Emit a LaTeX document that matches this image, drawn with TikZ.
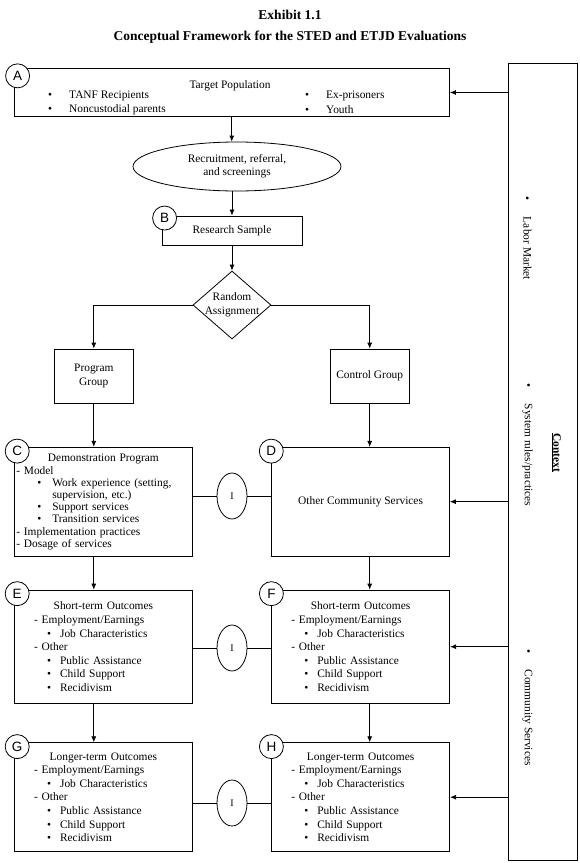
\documentclass[tikz,border=0pt]{standalone}
\usepackage{fontspec}
\setmainfont{Liberation Serif}
\setsansfont{Liberation Sans}
\usetikzlibrary{arrows.meta,positioning,shapes.geometric,calc}

\newcommand{\itm}[1]{\hspace*{13pt}\textbullet\hspace{9pt}#1}
\newcommand{\ditm}[1]{\hspace*{21pt}\textbullet\hspace{11pt}#1}
\newcommand{\hd}[1]{\makebox[\linewidth][c]{#1}}

\begin{document}
\begin{tikzpicture}[
  x=1pt, y=-1pt,
  font=\fontsize{11.4}{13.6}\selectfont,
  box/.style={rectangle, draw, align=center, inner sep=0pt, line width=0.8pt},
  listbox/.style={rectangle, draw, align=left, text width=138.6pt, inner xsep=19.8pt, inner ysep=0pt, minimum width=178.2pt, line width=0.8pt},
  tagcircle/.style={circle, draw, fill=white, minimum size=24pt, inner sep=0pt, line width=0.8pt, font=\sffamily\fontsize{13.5}{13.5}\selectfont},
  ibubble/.style={ellipse, draw, minimum width=30pt, minimum height=46pt, inner sep=0pt, line width=0.8pt, font=\fontsize{10}{10}\selectfont},
  ctxlabel/.style={rotate=-90, anchor=west, inner sep=0pt},
  arrow/.style={-{Latex[length=6pt,width=5pt]}, line width=0.8pt},
  conn/.style={line width=0.8pt}
]
\useasboundingbox (0,0) rectangle (579,863);

\node[font=\bfseries\fontsize{13.5}{16}\selectfont] (exhibit) at (290,14.5) {Exhibit 1.1};
\node[font=\bfseries\fontsize{13.5}{16}\selectfont] (title) at (290,37.5) {Conceptual Framework for the STED and ETJD Evaluations};

% target population
\node[box, minimum width=435.5pt, minimum height=48.5pt] (target) at (231.75,92.5) {};
\node (tpop) at (230,85.5) {Target Population};
\node[anchor=west, inner sep=0pt] (tanf) at (48,96) {\textbullet\hspace{17pt}TANF Recipients};
\node[anchor=west, inner sep=0pt] (noncust) at (48,109.5) {\textbullet\hspace{17pt}Noncustodial parents};
\node[anchor=west, inner sep=0pt] (exprison) at (305,96) {\textbullet\hspace{17pt}Ex-prisoners};
\node[anchor=west, inner sep=0pt] (youth) at (305,109.5) {\textbullet\hspace{17pt}Youth};

\node[ellipse, draw, line width=0.8pt, minimum width=208pt, minimum height=49pt, inner sep=0pt, align=center, font=\fontsize{11.4}{13}\selectfont] (recruit) at (237,166.5) {Recruitment, referral,\\and screenings};
\node[box, minimum width=140pt, minimum height=29.5pt] (sample) at (232,230.7) {Research Sample};
\node[diamond, draw, line width=0.8pt, aspect=1.147, minimum width=78pt, minimum height=68pt, inner sep=-5pt, align=center, font=\fontsize{11.4}{14.4}\selectfont] (assign) at (232,305) {Random\\Assignment};

\node[box, minimum width=79pt, minimum height=54pt, font=\fontsize{11.4}{14}\selectfont] (prog) at (93.8,376) {Program\\Group};
\node[box, minimum width=79pt, minimum height=54pt] (ctrl) at (369.7,376) {Control Group};

% program and comparison columns
\node[listbox, text width=174.2pt, inner xsep=2pt, minimum height=109.4pt, font=\fontsize{11.4}{12.2}\selectfont] (demo) at (103.4,502) {\hd{Demonstration Program}\\
- Model\\
\ditm{Work experience (setting,}\\
\hspace*{36pt}supervision, etc.)\\
\ditm{Support services}\\
\ditm{Transition services}\\
- Implementation practices\\
- Dosage of services};
\node[box, minimum width=177.8pt, minimum height=108.7pt] (other) at (360.6,501.7) {Other Community Services};

\node[listbox, minimum height=113.3pt] (shortL) at (103.4,646.7) {\hd{Short-term Outcomes}\\
- Employment/Earnings\\
\itm{Job Characteristics}\\
- Other\\
\itm{Public Assistance}\\
\itm{Child Support}\\
\itm{Recidivism}};
\node[listbox, minimum height=113.3pt] (shortR) at (360.6,646.7) {\hd{Short-term Outcomes}\\
- Employment/Earnings\\
\itm{Job Characteristics}\\
- Other\\
\itm{Public Assistance}\\
\itm{Child Support}\\
\itm{Recidivism}};

\node[listbox, minimum height=109pt] (longL) at (103.4,797.2) {\hd{Longer-term Outcomes}\\
- Employment/Earnings\\
\itm{Job Characteristics}\\
- Other\\
\itm{Public Assistance}\\
\itm{Child Support}\\
\itm{Recidivism}};
\node[listbox, minimum height=109pt] (longR) at (360.6,797.2) {\hd{Longer-term Outcomes}\\
- Employment/Earnings\\
\itm{Job Characteristics}\\
- Other\\
\itm{Public Assistance}\\
\itm{Child Support}\\
\itm{Recidivism}};

\node[ibubble] (i1) at (232,496) {I};
\node[ibubble] (i2) at (232,648) {I};
\node[ibubble] (i3) at (232,803) {I};

% context
\node[box, minimum width=68.5pt, minimum height=797pt] (ctx) at (542.75,461.5) {};
\node[ctxlabel] (labor) at (527.5,196.4) {\textbullet\hspace{16.4pt}Labor Market};
\node[ctxlabel] (rules) at (527.5,383.1) {\textbullet\hspace{16.4pt}System rules/practices};
\node[ctxlabel] (commsvc) at (527.5,648.8) {\textbullet\hspace{16.7pt}Community Services};
\node[rotate=-90, font=\bfseries\fontsize{11.4}{13}\selectfont] (context) at (556,452.5) {\underline{Context}};

\draw[arrow] (target.south) -- (target.south |- recruit.north);
\draw[arrow] (recruit.south -| sample.north) -- (sample.north);
\draw[arrow] (sample) -- (assign);
\draw[arrow] (assign.west) -| (prog.north);
\draw[arrow] (assign.east) -| (ctrl.north);
\draw[arrow] (prog.south) -- (prog.south |- demo.north);
\draw[arrow] (ctrl.south) -- (ctrl.south |- other.north);
\draw[arrow] (prog.south |- demo.south) -- (prog.south |- shortL.north);
\draw[arrow] (ctrl.south |- other.south) -- (ctrl.south |- shortR.north);
\draw[arrow] (prog.south |- shortL.south) -- (prog.south |- longL.north);
\draw[arrow] (ctrl.south |- shortR.south) -- (ctrl.south |- longR.north);

\draw[conn] (demo.east |- i1) -- (i1) -- (other.west |- i1);
\draw[conn] (shortL.east |- i2) -- (i2) -- (shortR.west |- i2);
\draw[conn] (longL.east |- i3) -- (i3) -- (longR.west |- i3);

\draw[arrow] (ctx.west |- target.east) -- (target.east);
\draw[arrow] (ctx.west |- other.east) -- (other.east);
\draw[arrow] (ctx.west |- shortR.east) -- (shortR.east);
\draw[arrow] (ctx.west |- longR.east) -- (longR.east);

\node[tagcircle] (tagA) at ([shift={(4,8)}]target.north west) {A};
\node[tagcircle] (tagB) at ([shift={(3,2.5)}]sample.north west) {B};
\node[tagcircle] (tagC) at ([shift={(3.3,4.2)}]demo.north west) {C};
\node[tagcircle] (tagD) at ([shift={(0,4.2)}]other.north west) {D};
\node[tagcircle] (tagE) at ([shift={(3.3,4)}]shortL.north west) {E};
\node[tagcircle] (tagF) at ([shift={(0.3,4)}]shortR.north west) {F};
\node[tagcircle] (tagG) at ([shift={(3.3,4.3)}]longL.north west) {G};
\node[tagcircle] (tagH) at ([shift={(0.3,4.3)}]longR.north west) {H};

\end{tikzpicture}
\end{document}
